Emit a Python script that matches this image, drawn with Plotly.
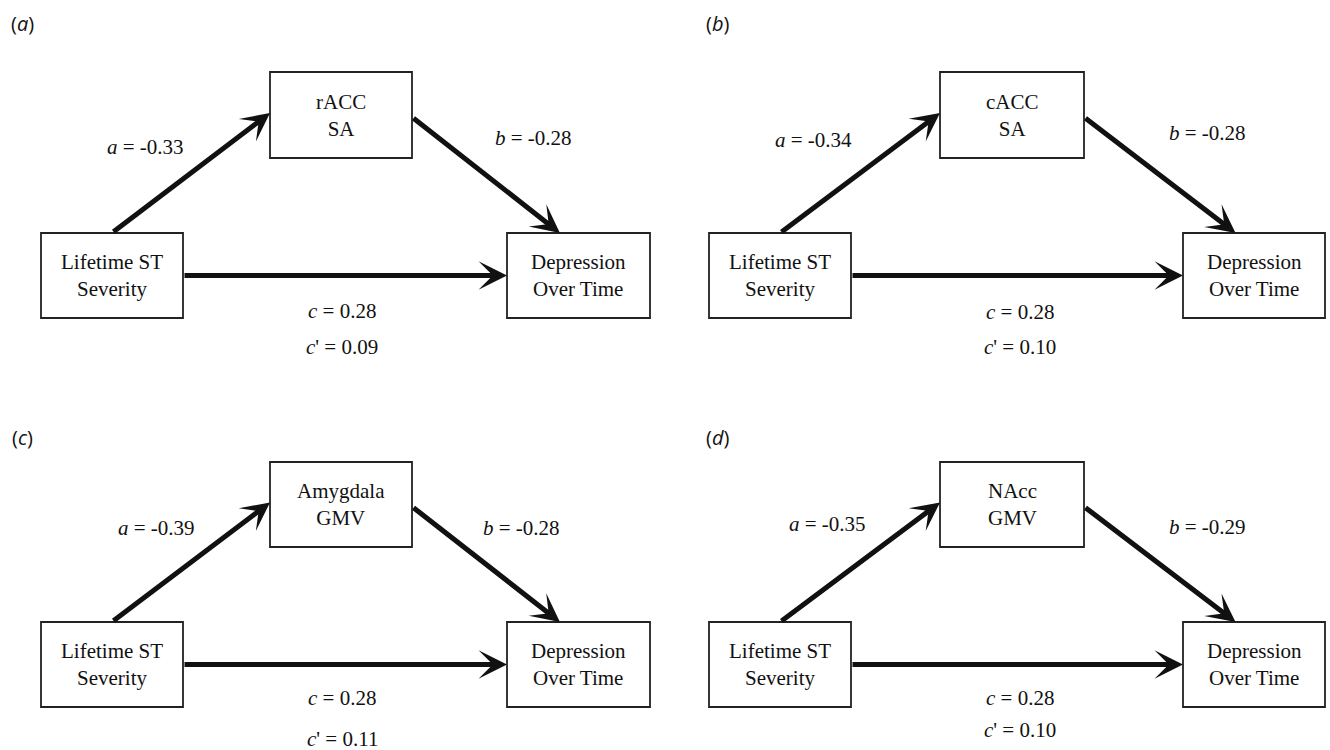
import plotly.graph_objects as go

# ---- data ----
panel_letters = ["a", "b", "c", "d"]
predictor = "Lifetime ST<br>Severity"
outcome = "Depression<br>Over Time"
mediators = ["rACC<br>SA", "cACC<br>SA", "Amygdala<br>GMV", "NAcc<br>GMV"]
a_vals = ["-0.33", "-0.34", "-0.39", "-0.35"]
b_vals = ["-0.28", "-0.28", "-0.28", "-0.29"]
c_vals = ["0.28", "0.28", "0.28", "0.28"]
cprime_vals = ["0.09", "0.10", "0.11", "0.10"]

# ---- layout geometry (pixels in a 1330x750 canvas) ----
W, H = 1330, 750
col_geom = [
    dict(left=(41, 183), mid=(270, 412), right=(507, 650), lab=(22,)),
    dict(left=(709, 851), mid=(940, 1084), right=(1183, 1325), lab=(717,)),
]
row_geom = [
    dict(mid=(72, 158), side=(233, 318), lab=23),
    dict(mid=(462, 547), side=(622, 707), lab=437),
]
# label positions per panel: a, b, c, c'
label_pos = [
    dict(a=(145, 147), b=(533, 138), c=(342, 311), cp=(342, 347)),
    dict(a=(813, 140), b=(1207, 133), c=(1020, 312), cp=(1020, 347)),
    dict(a=(156, 528), b=(521, 528), c=(342, 698), cp=(342, 739)),
    dict(a=(827, 524), b=(1207, 527), c=(1020, 698), cp=(1020, 730)),
]

INK = "#111111"
SERIF = "Liberation Serif, Times New Roman, serif"
fig = go.Figure()
fig.add_trace(go.Scatter(x=[0, W], y=[0, H], mode="markers",
                         marker=dict(opacity=0), hoverinfo="skip", showlegend=False))

shapes = []
annotations = []

def box(x0, x1, y0, y1):
    shapes.append(dict(type="rect", xref="x", yref="y", x0=x0, x1=x1, y0=y0, y1=y1,
                       line=dict(color="#222222", width=1.8), fillcolor="rgba(0,0,0,0)"))

def text(x, y, t, size=21, family=SERIF):
    annotations.append(dict(x=x, y=y, xref="x", yref="y", text=t, showarrow=False,
                            font=dict(family=family, size=size, color=INK),
                            xanchor="center", yanchor="middle"))

def arrow(x0, y0, x1, y1):
    annotations.append(dict(x=x1, y=y1, ax=x0, ay=y0, xref="x", yref="y",
                            axref="x", ayref="y", text="", showarrow=True,
                            arrowhead=3, arrowsize=0.95, arrowwidth=5,
                            arrowcolor=INK, standoff=0, startstandoff=0))

for i, letter in enumerate(panel_letters):
    cg = col_geom[i % 2]
    rg = row_geom[i // 2]
    lx0, lx1 = cg["left"]
    mx0, mx1 = cg["mid"]
    rx0, rx1 = cg["right"]
    my0, my1 = rg["mid"]
    sy0, sy1 = rg["side"]
    box(lx0, lx1, sy0, sy1)
    box(mx0, mx1, my0, my1)
    box(rx0, rx1, sy0, sy1)
    sc = (sy0 + sy1) / 2
    mc = (my0 + my1) / 2
    text((lx0 + lx1) / 2, sc, predictor)
    text((mx0 + mx1) / 2, mc, mediators[i])
    text((rx0 + rx1) / 2, sc, outcome)
    # arrows
    arrow((lx0 + lx1) / 2, sy0, mx0, mc - 2)
    arrow(mx1, mc + 2, rx0 + 0.37 * (rx1 - rx0), sy0)
    arrow(lx1, sc, rx0, sc)
    # coefficient labels
    lp = label_pos[i]
    text(*lp["a"], f"<i>a</i> = {a_vals[i]}")
    text(*lp["b"], f"<i>b</i> = {b_vals[i]}")
    text(*lp["c"], f"<i>c</i> = {c_vals[i]}")
    text(*lp["cp"], f"<i>c</i>' = {cprime_vals[i]}")
    # panel letter
    text(cg["lab"][0], rg["lab"], f"(<i>{letter}</i>)", size=20, family="Open Sans")

fig.update_layout(
    width=W, height=H,
    margin=dict(l=0, r=0, t=0, b=0),
    paper_bgcolor="white", plot_bgcolor="white",
    xaxis=dict(range=[0, W], visible=False, fixedrange=True),
    yaxis=dict(range=[H, 0], visible=False, fixedrange=True),
    shapes=shapes, annotations=annotations, showlegend=False,
)
fig.write_html("out.html", config={"displayModeBar": False},
               post_script="document.body.style.margin='0';document.body.style.overflow='hidden';")
